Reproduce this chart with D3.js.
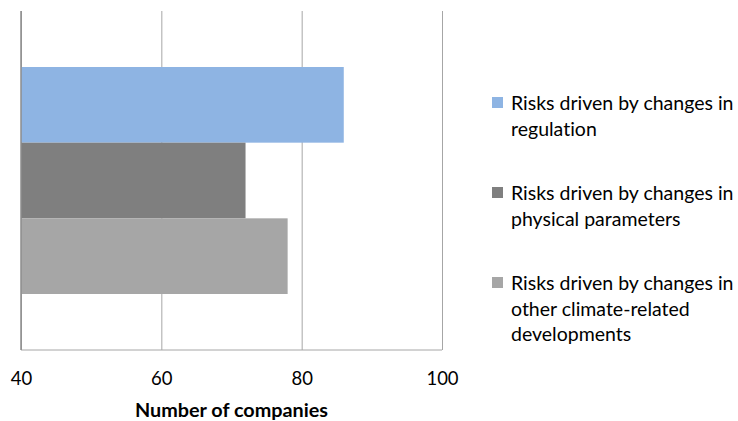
<!DOCTYPE html>
<html><head><meta charset="utf-8">
<script src="https://cdn.jsdelivr.net/npm/d3@7"></script>
<style>body{margin:0;background:#fff}svg{display:block}text{font-family:Lato,"Open Sans",sans-serif;fill:#000;font-variant-ligatures:none;font-feature-settings:"liga" 0,"clig" 0}</style>
</head><body><svg id="c" width="738" height="421"></svg>
<script>
const categories = ["Companies"];
const seriesNames = ["Risks driven by changes in regulation","Risks driven by changes in physical parameters","Risks driven by changes in other climate-related developments"];
const legendLines = [["Risks driven by changes in","regulation"],["Risks driven by changes in","physical parameters"],["Risks driven by changes in","other climate-related","developments"]];
const seriesValues = [86,72,78];
const seriesColors = ["#8EB4E3","#7F7F7F","#A6A6A6"];
const xTicks = [40,60,80,100];
const xTitle = "Number of companies";

const svg = d3.select("#c");
const pL=21, pR=442, pT=11, pB=350;
const x = d3.scaleLinear().domain([40,100]).range([pL,pR]);
const y0 = d3.scaleBand().domain(categories).range([pT,pB]).paddingInner(0).paddingOuter(0.2467);
const y1 = d3.scaleBand().domain(seriesNames).range([0,y0.bandwidth()]);

// gridlines
const grid = svg.append("g").attr("transform",`translate(0,${pB})`)
  .call(d3.axisBottom(x).tickValues(xTicks).tickSize(-(pB-pT)).tickFormat(""));
grid.select(".domain").remove();
grid.selectAll(".tick line").attr("stroke","#A6A6A6").attr("stroke-width",1);

// bars
const data = seriesNames.map((s,i)=>({cat:categories[0],name:s,value:seriesValues[i],color:seriesColors[i]}));
svg.append("g").selectAll("rect").data(data).join("rect")
  .attr("x",x(40)).attr("y",d=>y0(d.cat)+y1(d.name))
  .attr("width",d=>x(d.value)-x(40)).attr("height",y1.bandwidth())
  .attr("fill",d=>d.color);

// axes lines
svg.append("line").attr("x1",pL).attr("x2",pR).attr("y1",pB).attr("y2",pB).attr("stroke","#A6A6A6");
svg.append("line").attr("x1",pL).attr("x2",pL).attr("y1",pT).attr("y2",pB).attr("stroke","#8C8C8C").attr("stroke-width",1.5);

// tick labels
const ax = svg.append("g").attr("transform",`translate(0,${pB})`)
  .call(d3.axisBottom(x).tickValues(xTicks).tickSize(0).tickPadding(0));
ax.select(".domain").remove();
ax.selectAll("text").attr("y",35).attr("dy",0).style("font-size","18.5px").style("font-family","Lato,'Open Sans',sans-serif").attr("fill","#000");

svg.append("text").attr("x",(pL+pR)/2).attr("y",417).attr("text-anchor","middle")
  .style("font-size","19.8px").style("font-weight","bold").text(xTitle);

// legend
const legY = [110,200,290];
const lg = svg.append("g");
legendLines.forEach((lines,i)=>{
  lg.append("rect").attr("x",492).attr("y",legY[i]-13).attr("width",11).attr("height",11).attr("fill",seriesColors[i]);
  lines.forEach((t,j)=>{
    lg.append("text").attr("x",511).attr("y",legY[i]+j*25.5).style("font-size","19.5px").text(t);
  });
});
</script></body></html>
